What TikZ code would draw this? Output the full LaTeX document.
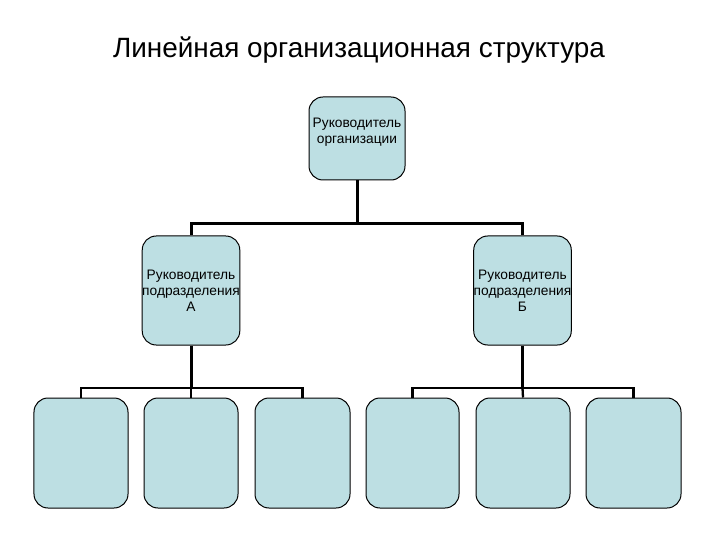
\documentclass[tikz,border=0pt]{standalone}
\usepackage{fontspec}
\setmainfont{Liberation Sans}
\usepackage{xcolor}
\usetikzlibrary{positioning, calc}
\definecolor{boxfill}{RGB}{189,223,227}

\begin{document}
\begin{tikzpicture}[x=1bp, y=-1bp,
	box/.style={draw=black, line width=1bp, fill=boxfill, rounded corners=14bp, inner sep=0pt, align=center, font=\fontsize{13.8}{16}\selectfont},
	bus/.style={line width=3bp},
	subbus/.style={line width=2.3bp}]
	\useasboundingbox (0,0) rectangle (720,540);
	\node[anchor=base, font=\fontsize{28}{32}\selectfont] (title) at (359,58) {Линейная организационная структура};
	
	\node[box, minimum width=96bp, minimum height=83bp] (top) at (357,138.5) {Руководитель\\организации\\~};
	
	\node[box, minimum width=94bp, minimum height=109bp] (ma) at (191,290.5) {Руководитель\\подразделения\\А};
	\node[box, minimum width=95bp, minimum height=109bp] (mb) at (522.5,290.5) {Руководитель\\подразделения\\Б};
	
	\node[box, minimum width=94bp, minimum height=110bp] (a1) at (81,453) {};
	\node[box, minimum width=94bp, minimum height=110bp] (a2) at (191,453) {};
	\node[box, minimum width=95bp, minimum height=110bp] (a3) at (302.5,453) {};
	\node[box, minimum width=93bp, minimum height=110bp] (b1) at (412.5,453) {};
	\node[box, minimum width=94bp, minimum height=110bp] (b2) at (523,453) {};
	\node[box, minimum width=95bp, minimum height=110bp] (b3) at (633.5,453) {};
	
	% top level
	\coordinate (jt) at (top.south |- 0,224);
	\draw[bus] (top.south) -- (jt);
	\draw[bus] (jt) -| (ma.north);
	\draw[bus] (jt) -| (mb.north);
	
	% department A
	\coordinate (ja) at (ma.south |- 0,388);
	\draw[bus] (ma.south) -- (ja);
	\draw[subbus] (ja) -| (a1.north);
	\draw[subbus] (ja) -- (a2.north);
	\draw[subbus] (ja) -| (a3.north);
	
	% department B
	\coordinate (jb) at (mb.south |- 0,388);
	\draw[subbus] (mb.south) -- (jb);
	\draw[subbus] (jb) -| (b1.north);
	\draw[subbus] (jb) -- (b2.north);
	\draw[subbus] (jb) -| (b3.north);
\end{tikzpicture}
\end{document}
